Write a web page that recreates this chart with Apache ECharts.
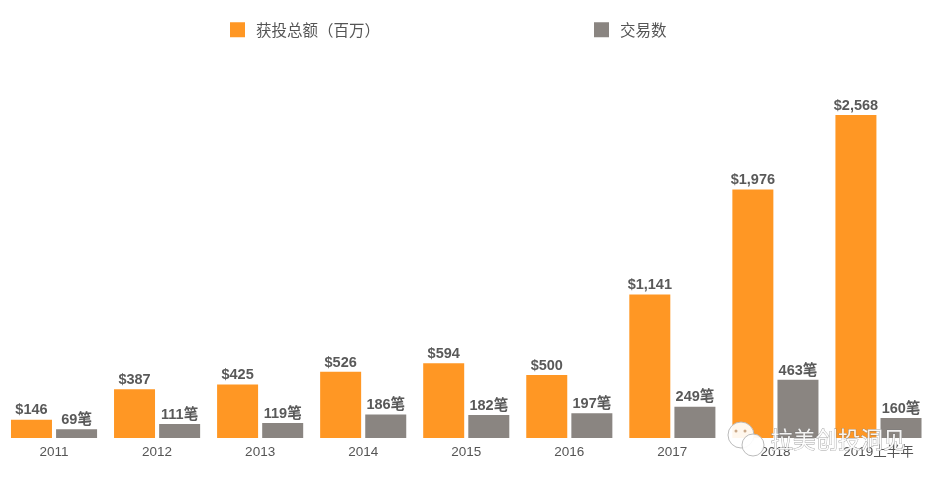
<!DOCTYPE html>
<html>
<head>
<meta charset="utf-8">
<script src="https://cdn.jsdelivr.net/npm/echarts@6/dist/echarts.min.js"></script>
<style>
  html, body { margin: 0; padding: 0; background: #fff; }
  #chart { width: 937px; height: 482px; }
</style>
</head>
<body>
<div id="chart"></div>
<script>
var categories = ["2011", "2012", "2013", "2014", "2015", "2016", "2017", "2018", "2019上半年"];
var montos = [146, 387, 425, 526, 594, 500, 1141, 1976, 2568];
var transacciones = [69, 111, 119, 186, 182, 197, 249, 463, 160];

var fuente = '"Liberation Sans", "Noto Sans CJK SC", sans-serif';
var myChart = echarts.init(document.getElementById("chart"));

var option = {
  animation: false,
  textStyle: { fontFamily: fuente },
  legend: {
    left: 225,
    top: 17,
    itemWidth: 15,
    itemHeight: 15,
    itemGap: 214,
    icon: "rect",
    textStyle: { fontSize: 15.5, color: "#555", fontFamily: '"Noto Sans CJK SC", sans-serif', padding: [0, 0, 0, 6] },
    data: ["获投总额（百万）", "交易数"],
  },
  grid: { left: 2.5, right: 7, top: 115, bottom: 44 },
  xAxis: {
    type: "category",
    data: categories,
    axisLine: { show: false },
    axisTick: { show: false },
    axisLabel: { fontSize: 13.5, color: "#555", margin: 8 },
  },
  yAxis: { type: "value", min: 0, max: 2568, show: false },
  series: [
    {
      name: "获投总额（百万）",
      type: "bar",
      data: montos,
      barWidth: 41,
      barGap: "10%",
      itemStyle: { color: "#FF9724" },
      label: {
        show: true,
        position: "top",
        distance: 2,
        fontSize: 14.5,
        fontWeight: "bold",
        color: "#595959",
        formatter: function (p) {
          return "$" + p.value.toLocaleString("en-US");
        },
      },
    },
    {
      name: "交易数",
      type: "bar",
      data: transacciones,
      barWidth: 41,
      itemStyle: { color: "#8A8581" },
      label: {
        show: true,
        position: "top",
        distance: 2,
        fontSize: 14.5,
        fontWeight: "bold",
        color: "#595959",
        formatter: "{c}笔",
      },
    },
  ],
  graphic: [
    // marca de agua de la imagen original
    { type: "circle", shape: { cx: 741, cy: 435, r: 13 }, style: { fill: "rgba(255,255,255,0.92)", stroke: "#bbb", lineWidth: 1 }, z: 10 },
    { type: "circle", shape: { cx: 753, cy: 445, r: 11 }, style: { fill: "rgba(255,255,255,0.92)", stroke: "#bbb", lineWidth: 1 }, z: 10 },
    { type: "circle", shape: { cx: 736, cy: 431, r: 1.5 }, style: { fill: "#caa98a" }, z: 11 },
    { type: "circle", shape: { cx: 745, cy: 431, r: 1.5 }, style: { fill: "#caa98a" }, z: 11 },
    {
      type: "text",
      left: 770,
      top: 428,
      z: 11,
      style: {
        text: "拉美创投洞见",
        fontSize: 22.5,
        fontFamily: '"Noto Sans CJK SC", sans-serif',
        fill: "rgba(255,255,255,0.9)",
        stroke: "rgba(120,120,120,0.7)",
        lineWidth: 0.8,
      },
    },
  ],
};

myChart.setOption(option);
</script>
</body>
</html>
